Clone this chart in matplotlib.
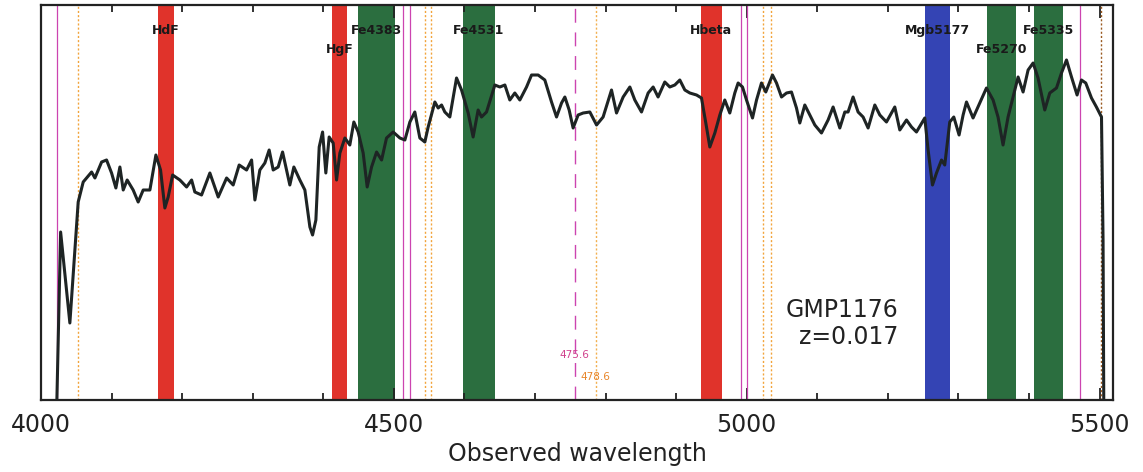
import matplotlib
matplotlib.use("Agg")
import matplotlib.pyplot as plt

# ---- data ----
wavelength = [4022.5, 4027.8, 4040.9, 4052.7, 4059.8, 4064.6, 4071.7, 4076.4, 4085.9, 4092.9,
              4100.0, 4106.1, 4111.8, 4116.5, 4122.1, 4130.6, 4137.7, 4144.8, 4154.3, 4162.8,
              4169.4, 4175.5, 4180.2, 4186.5, 4196.8, 4206.3, 4213.4, 4218.0, 4227.5, 4239.3,
              4251.1, 4263.0, 4272.3, 4280.8, 4291.3, 4298.4, 4303.1, 4310.1, 4317.2, 4323.3,
              4329.0, 4336.1, 4342.3, 4348.0, 4352.6, 4358.3, 4366.8, 4373.9, 4381.0, 4384.8,
              4389.5, 4394.2, 4399.0, 4403.6, 4408.3, 4414.0, 4418.8, 4423.5, 4430.6, 4437.6,
              4443.3, 4449.4, 4456.5, 4462.2, 4468.4, 4475.5, 4482.6, 4489.6, 4499.0, 4508.5,
              4515.6, 4522.7, 4529.7, 4536.8, 4543.9, 4548.6, 4558.1, 4562.8, 4567.6, 4572.2,
              4579.3, 4588.8, 4595.9, 4605.3, 4612.3, 4619.4, 4624.2, 4631.3, 4643.1, 4650.2,
              4657.3, 4664.3, 4671.4, 4678.5, 4688.0, 4695.1, 4704.4, 4713.9, 4723.4, 4730.5,
              4737.6, 4742.3, 4748.4, 4754.0, 4761.1, 4768.2, 4777.7, 4787.2, 4796.5, 4808.4,
              4815.5, 4824.9, 4834.4, 4841.4, 4850.9, 4860.3, 4867.4, 4874.4, 4883.9, 4891.0,
              4898.1, 4905.2, 4912.3, 4919.4, 4928.9, 4935.9, 4943.0, 4947.7, 4954.8, 4961.9,
              4968.9, 4976.0, 4983.1, 4987.8, 4994.0, 4999.7, 5008.2, 5013.9, 5020.9, 5027.0,
              5036.5, 5042.2, 5049.3, 5056.4, 5063.4, 5070.5, 5075.2, 5082.3, 5089.4, 5096.5,
              5105.9, 5115.3, 5122.4, 5131.9, 5139.0, 5143.6, 5150.7, 5157.8, 5164.9, 5172.0,
              5181.5, 5188.6, 5198.0, 5209.8, 5216.9, 5226.4, 5233.5, 5240.5, 5252.3, 5257.0,
              5263.2, 5268.9, 5276.0, 5280.6, 5287.7, 5293.4, 5300.9, 5306.6, 5311.4, 5320.7,
              5330.2, 5339.7, 5349.1, 5356.1, 5363.2, 5370.3, 5377.4, 5384.5, 5391.6, 5398.7,
              5405.8, 5412.8, 5422.3, 5429.4, 5438.9, 5446.0, 5453.1, 5460.2, 5468.1, 5474.3,
              5480.4, 5488.5, 5495.5, 5502.7, 5504.9, 5505.9]
flux = [0.00, 1.68, 0.77, 1.98, 2.18, 2.22, 2.28, 2.22, 2.38, 2.40,
        2.27, 2.12, 2.33, 2.10, 2.20, 2.10, 1.98, 2.10, 2.10, 2.45,
        2.30, 1.92, 2.03, 2.25, 2.20, 2.13, 2.20, 2.08, 2.05, 2.27,
        2.03, 2.22, 2.15, 2.35, 2.30, 2.40, 2.00, 2.30, 2.37, 2.50,
        2.30, 2.33, 2.48, 2.30, 2.15, 2.33, 2.20, 2.10, 1.73, 1.65,
        1.80, 2.53, 2.68, 2.27, 2.63, 2.57, 2.20, 2.47, 2.62, 2.55,
        2.78, 2.68, 2.47, 2.13, 2.33, 2.48, 2.40, 2.62, 2.68, 2.62,
        2.60, 2.78, 2.88, 2.62, 2.58, 2.73, 2.98, 2.92, 2.95, 2.88,
        2.83, 3.22, 3.10, 2.87, 2.63, 2.90, 2.83, 2.88, 3.15, 3.13,
        3.15, 3.00, 3.07, 3.00, 3.13, 3.25, 3.25, 3.20, 2.98, 2.83,
        2.97, 3.03, 2.90, 2.72, 2.85, 2.87, 2.88, 2.75, 2.83, 3.10,
        2.87, 3.03, 3.13, 3.00, 2.88, 3.07, 3.13, 3.03, 3.18, 3.13,
        3.15, 3.20, 3.10, 3.07, 3.05, 3.02, 2.73, 2.53, 2.67, 2.85,
        3.00, 2.87, 3.07, 3.17, 3.13, 3.00, 2.82, 3.00, 3.17, 3.08,
        3.25, 3.17, 3.03, 3.07, 3.08, 2.92, 2.77, 2.95, 2.85, 2.75,
        2.67, 2.80, 2.93, 2.72, 2.88, 2.88, 3.03, 2.88, 2.83, 2.72,
        2.95, 2.85, 2.78, 2.93, 2.70, 2.80, 2.73, 2.68, 2.82, 2.50,
        2.15, 2.27, 2.40, 2.35, 2.78, 2.83, 2.65, 2.85, 2.98, 2.82,
        2.97, 3.12, 3.00, 2.83, 2.55, 2.83, 3.03, 3.23, 3.08, 3.30,
        3.37, 3.22, 2.90, 3.07, 3.12, 3.27, 3.40, 3.23, 3.05, 3.20,
        3.17, 3.02, 2.93, 2.83, 1.60, 0.00]

# index bands as drawn (observed wavelength)
index_names = ["HdF", "HgF", "Fe4383", "Fe4531", "Hbeta", "Mgb5177", "Fe5270", "Fe5335"]
index_lo = [4165.6, 4412.2, 4449.0, 4597.6, 4935.0, 5252.3, 5340.2, 5406.8]
index_hi = [4188.3, 4433.4, 4501.4, 4643.1, 4964.7, 5287.7, 5381.3, 5447.9]
index_kind = ["balmer", "balmer", "iron", "iron", "balmer", "mg", "iron", "iron"]
label_row = [0, 1, 0, 0, 0, 0, 1, 0]

magenta_lines = [4022, 4513, 4523, 4992, 5001, 5472]
orange_lines = [4053, 4544, 4552, 5023, 5034]
end_line = 5502
marker_a = 4756
marker_b = 4786
marker_a_label = "475.6"
marker_b_label = "478.6"

galaxy = "GMP1176"
z_label = "z=0.017"

# ---- figure ----
fig = plt.figure(figsize=(11.43, 4.72), dpi=100)
ax = fig.add_axes([41 / 1143, 72 / 472, 1072 / 1143, 395 / 472])

colors = {"balmer": "#e0332b", "iron": "#2b6e3f", "mg": "#3444b4"}
for name, lo, hi, kind, row in zip(index_names, index_lo, index_hi, index_kind, label_row):
    ax.axvspan(lo, hi, color=colors[kind], lw=0, zorder=1)
    ax.text((lo + hi) / 2, 3.70 if row == 0 else 3.51, name, ha="center", va="center",
            fontsize=9, fontweight="bold", color="#1a1a1a", zorder=5)

for w in magenta_lines:
    ax.axvline(w, color="#cc44b0", lw=0.9, zorder=2)
for w in orange_lines:
    ax.axvline(w, color="#f2a43c", lw=1.0, ls=(0, (1.5, 1.5)), zorder=2)
ax.axvline(end_line, color="#9a5a20", lw=1.0, ls=(0, (1.5, 1.5)), zorder=2)

ax.axvline(marker_a, color="#cc44b0", lw=1.0, ls=(0, (10, 7)), zorder=2)
ax.axvline(marker_b, color="#f2b050", lw=1.0, ls=(0, (1.5, 1.5)), zorder=2)
ax.text(marker_a, 0.45, marker_a_label, ha="center", va="center", fontsize=7.5,
        color="#d0408c", zorder=5)
ax.text(marker_b, 0.23, marker_b_label, ha="center", va="center", fontsize=7.5,
        color="#e8862a", zorder=5)

ax.plot(wavelength, flux, color="#1e2424", lw=2.2, zorder=4, solid_joinstyle="round")

ax.text(0.7994, 0.228, galaxy, transform=ax.transAxes, ha="right", va="center",
        fontsize=17, color="#222222")
ax.text(0.7994, 0.159, z_label, transform=ax.transAxes, ha="right", va="center",
        fontsize=17, color="#222222")

ax.set_xlim(4000, 5519)
ax.set_ylim(0, 3.95)
ax.set_xticks([4000, 4500, 5000, 5500])
ax.set_xticks(range(4100, 5500, 100), minor=True)
ax.tick_params(axis="x", which="major", direction="in", length=9, width=1.3,
               top=True, labelsize=17, pad=9, colors="#222222")
ax.tick_params(axis="x", which="minor", direction="in", length=5, width=1.3, top=True,
               colors="#222222")
ax.set_yticks([])
for s in ax.spines.values():
    s.set_linewidth(1.6)
    s.set_color("#222222")
ax.set_xlabel("Observed wavelength", fontsize=17, color="#222222", labelpad=4)

fig.savefig("out.png", dpi=100)
